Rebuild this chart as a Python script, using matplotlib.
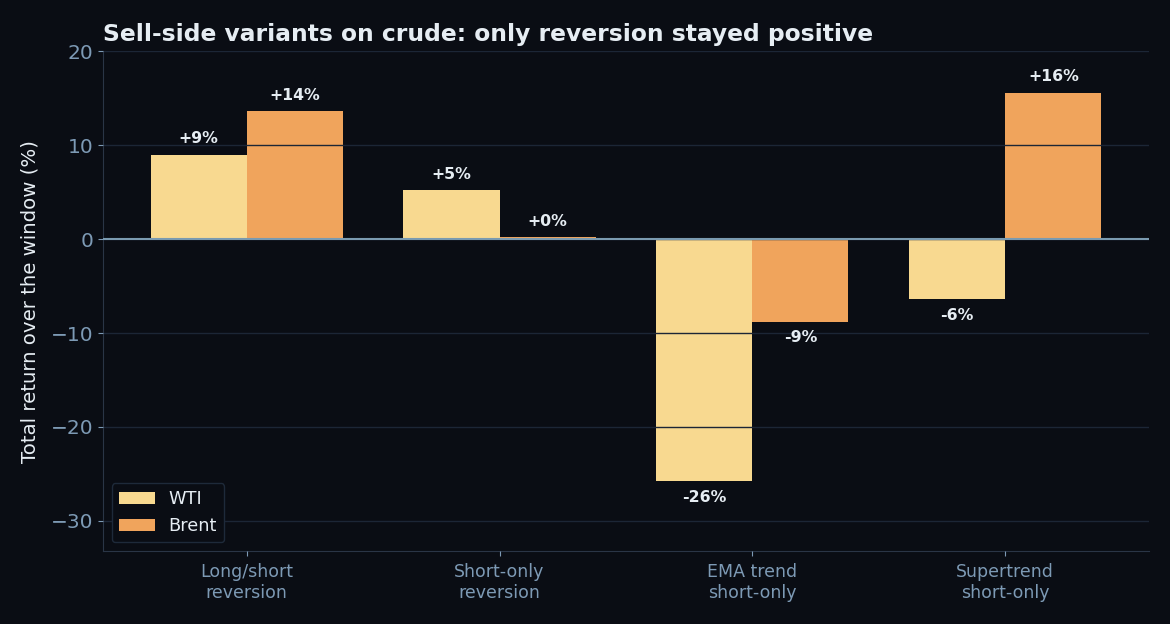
import matplotlib.pyplot as plt
import numpy as np

# Données
strategies = ['Long/short\nreversion', 'Short-only\nreversion', 'EMA trend\nshort-only', 'Supertrend\nshort-only']
wti = [9.0, 5.2, -25.8, -6.4]
brent = [13.6, 0.2, -8.8, 15.6]

bg = '#0a0d14'
col_wti = '#f8d990'
col_brent = '#f0a45c'
txt = '#e6edf3'
tick_col = '#7d9ab5'
grid_col = '#1c2636'

fig = plt.figure(figsize=(11.7, 6.24), dpi=100, facecolor=bg)
ax = fig.add_axes([0.088, 0.117, 0.894, 0.801])
ax.set_facecolor(bg)

x = np.arange(len(strategies))
w = 0.38
b1 = ax.bar(x - w / 2, wti, w, color=col_wti, label='WTI', zorder=1)
b2 = ax.bar(x + w / 2, brent, w, color=col_brent, label='Brent', zorder=1)

ax.grid(axis='y', color=grid_col, linewidth=1, zorder=2)
ax.set_axisbelow(False)
ax.axhline(0, color='#7a9ab0', linewidth=1.5, zorder=3)

for bars, vals in ((b1, wti), (b2, brent)):
    for rect, v in zip(bars, vals):
        cx = rect.get_x() + rect.get_width() / 2
        if v >= 0:
            ax.annotate(f'+{v:.0f}%', (cx, v), xytext=(0, 6), textcoords='offset points',
                        ha='center', va='bottom', color=txt, fontsize=11.3, fontweight='bold')
        else:
            ax.annotate(f'{v:.0f}%', (cx, v), xytext=(0, -6), textcoords='offset points',
                        ha='center', va='top', color=txt, fontsize=11.3, fontweight='bold')

ax.set_ylim(-33.2, 20)
ax.set_yticks([-30, -20, -10, 0, 10, 20])
ax.set_xticks(x)
ax.set_xticklabels(strategies, fontsize=12.5, color=tick_col)
ax.tick_params(axis='y', labelsize=14.5, colors=tick_col)
ax.tick_params(axis='x', colors=tick_col, pad=5)
for s in ['top', 'right']:
    ax.spines[s].set_visible(False)
for s in ['left', 'bottom']:
    ax.spines[s].set_color('#2a3546')

ax.set_ylabel('Total return over the window (%)', color=txt, fontsize=14.2, labelpad=8)
ax.set_title('Sell-side variants on crude: only reversion stayed positive', loc='left',
             color=txt, fontsize=16.8, fontweight='bold', pad=7)

leg = ax.legend(loc='lower left', fontsize=12.8, facecolor=bg, edgecolor='#1e2a3a',
                labelcolor=txt, framealpha=1)

plt.savefig('out.png', facecolor=bg)
